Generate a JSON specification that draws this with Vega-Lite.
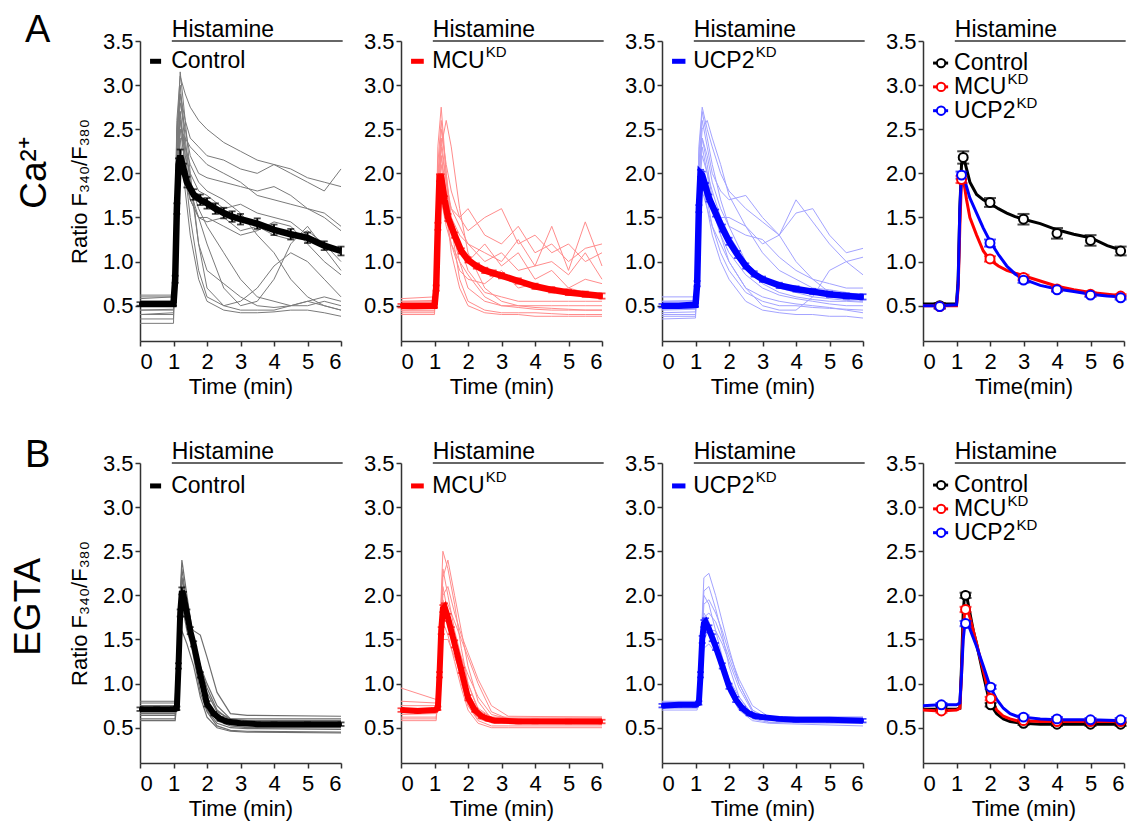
{"$schema":"https://vega.github.io/schema/vega-lite/v6.json","padding":{"left":9,"top":11,"right":5,"bottom":5},"background":"white","bounds":"flush","columns":4,"spacing":{"row":122,"column":60},
"config":{"font":"Liberation Sans","view":{"stroke":null},"axis":{"grid":false,"domainColor":"#333","domainWidth":1.5,"tickColor":"#333","tickWidth":1.5,"tickSize":5,"labelFontSize":22,"labelColor":"#000","titleFontSize":22,"titleFontWeight":"normal","titleColor":"#000","labelFont":"Liberation Sans","titleFont":"Liberation Sans"},"axisX":{"labelPadding":5,"titlePadding":4},"axisY":{"labelPadding":2,"titlePadding":11},"text":{"color":"#000"}},
"datasets":{
"tr":[
{"k":"a1","t":0,"v":0.55},{"k":"a1","t":1,"v":0.55},{"k":"a1","t":1.1,"v":2.6},{"k":"a1","t":1.2,"v":3.1},{"k":"a1","t":1.35,"v":2.9},{"k":"a1","t":1.5,"v":2.75},{"k":"a1","t":1.75,"v":2.6},{"k":"a1","t":2,"v":2.5},{"k":"a1","t":2.5,"v":2.35},{"k":"a1","t":3,"v":2.25},{"k":"a1","t":3.5,"v":2.15},{"k":"a1","t":4,"v":2.1},{"k":"a1","t":4.5,"v":2.05},{"k":"a1","t":5,"v":1.95},{"k":"a1","t":5.5,"v":1.9},{"k":"a1","t":6,"v":1.85},
{"k":"a2","t":0,"v":0.5},{"k":"a2","t":1,"v":0.5},{"k":"a2","t":1.1,"v":2.4},{"k":"a2","t":1.2,"v":2.9},{"k":"a2","t":1.35,"v":2.6},{"k":"a2","t":1.5,"v":2.4},{"k":"a2","t":1.75,"v":2.3},{"k":"a2","t":2,"v":2.2},{"k":"a2","t":2.5,"v":2.15},{"k":"a2","t":3,"v":2.05},{"k":"a2","t":3.5,"v":2.0},{"k":"a2","t":4,"v":2.1},{"k":"a2","t":4.5,"v":2.0},{"k":"a2","t":5,"v":1.9},{"k":"a2","t":5.5,"v":1.8},{"k":"a2","t":6,"v":2.05},
{"k":"a3","t":0,"v":0.6},{"k":"a3","t":1,"v":0.6},{"k":"a3","t":1.1,"v":2.2},{"k":"a3","t":1.2,"v":2.8},{"k":"a3","t":1.35,"v":2.5},{"k":"a3","t":1.5,"v":2.2},{"k":"a3","t":1.75,"v":2.0},{"k":"a3","t":2,"v":1.95},{"k":"a3","t":2.5,"v":1.9},{"k":"a3","t":3,"v":1.85},{"k":"a3","t":3.5,"v":1.8},{"k":"a3","t":4,"v":1.85},{"k":"a3","t":4.5,"v":1.75},{"k":"a3","t":5,"v":1.6},{"k":"a3","t":5.5,"v":1.55},{"k":"a3","t":6,"v":1.4},
{"k":"a4","t":0,"v":0.45},{"k":"a4","t":1,"v":0.45},{"k":"a4","t":1.1,"v":2.0},{"k":"a4","t":1.2,"v":2.6},{"k":"a4","t":1.35,"v":2.2},{"k":"a4","t":1.5,"v":2.0},{"k":"a4","t":1.75,"v":1.8},{"k":"a4","t":2,"v":1.75},{"k":"a4","t":2.5,"v":1.6},{"k":"a4","t":3,"v":1.65},{"k":"a4","t":3.5,"v":1.55},{"k":"a4","t":4,"v":1.5},{"k":"a4","t":4.5,"v":1.45},{"k":"a4","t":5,"v":1.3},{"k":"a4","t":5.5,"v":1.2},{"k":"a4","t":6,"v":1.1},
{"k":"a5","t":0,"v":0.4},{"k":"a5","t":1,"v":0.42},{"k":"a5","t":1.1,"v":1.8},{"k":"a5","t":1.2,"v":2.5},{"k":"a5","t":1.35,"v":2.1},{"k":"a5","t":1.5,"v":1.7},{"k":"a5","t":1.75,"v":1.5},{"k":"a5","t":2,"v":1.45},{"k":"a5","t":2.5,"v":1.5},{"k":"a5","t":3,"v":1.35},{"k":"a5","t":3.5,"v":1.4},{"k":"a5","t":4,"v":1.3},{"k":"a5","t":4.5,"v":1.25},{"k":"a5","t":5,"v":1.35},{"k":"a5","t":5.5,"v":1.2},{"k":"a5","t":6,"v":1.0},
{"k":"a6","t":0,"v":0.35},{"k":"a6","t":1,"v":0.35},{"k":"a6","t":1.1,"v":2.3},{"k":"a6","t":1.2,"v":3.0},{"k":"a6","t":1.35,"v":2.4},{"k":"a6","t":1.5,"v":1.9},{"k":"a6","t":1.75,"v":1.2},{"k":"a6","t":2,"v":0.7},{"k":"a6","t":2.5,"v":0.5},{"k":"a6","t":3,"v":0.45},{"k":"a6","t":3.5,"v":0.45},{"k":"a6","t":4,"v":0.45},{"k":"a6","t":4.5,"v":0.5},{"k":"a6","t":5,"v":0.55},{"k":"a6","t":5.5,"v":0.5},{"k":"a6","t":6,"v":0.45},
{"k":"a7","t":0,"v":0.5},{"k":"a7","t":1,"v":0.5},{"k":"a7","t":1.1,"v":2.1},{"k":"a7","t":1.2,"v":2.7},{"k":"a7","t":1.35,"v":2.0},{"k":"a7","t":1.5,"v":1.5},{"k":"a7","t":1.75,"v":0.9},{"k":"a7","t":2,"v":0.6},{"k":"a7","t":2.5,"v":0.5},{"k":"a7","t":3,"v":0.55},{"k":"a7","t":3.5,"v":0.7},{"k":"a7","t":4,"v":0.95},{"k":"a7","t":4.5,"v":1.1},{"k":"a7","t":5,"v":1.0},{"k":"a7","t":5.5,"v":0.8},{"k":"a7","t":6,"v":0.6},
{"k":"a8","t":0,"v":0.3},{"k":"a8","t":1,"v":0.3},{"k":"a8","t":1.1,"v":1.9},{"k":"a8","t":1.2,"v":2.4},{"k":"a8","t":1.35,"v":1.8},{"k":"a8","t":1.5,"v":1.3},{"k":"a8","t":1.75,"v":0.8},{"k":"a8","t":2,"v":0.55},{"k":"a8","t":2.5,"v":0.45},{"k":"a8","t":3,"v":0.42},{"k":"a8","t":3.5,"v":0.42},{"k":"a8","t":4,"v":0.43},{"k":"a8","t":4.5,"v":0.45},{"k":"a8","t":5,"v":0.45},{"k":"a8","t":5.5,"v":0.42},{"k":"a8","t":6,"v":0.38},
{"k":"a9","t":0,"v":0.62},{"k":"a9","t":1,"v":0.62},{"k":"a9","t":1.1,"v":2.5},{"k":"a9","t":1.2,"v":2.9},{"k":"a9","t":1.35,"v":2.3},{"k":"a9","t":1.5,"v":1.9},{"k":"a9","t":1.75,"v":1.6},{"k":"a9","t":2,"v":1.4},{"k":"a9","t":2.5,"v":1.1},{"k":"a9","t":3,"v":0.8},{"k":"a9","t":3.5,"v":0.6},{"k":"a9","t":4,"v":0.55},{"k":"a9","t":4.5,"v":0.5},{"k":"a9","t":5,"v":0.55},{"k":"a9","t":5.5,"v":0.6},{"k":"a9","t":6,"v":0.55},
{"k":"a10","t":0,"v":0.45},{"k":"a10","t":1,"v":0.46},{"k":"a10","t":1.1,"v":1.7},{"k":"a10","t":1.2,"v":2.2},{"k":"a10","t":1.35,"v":1.9},{"k":"a10","t":1.5,"v":1.7},{"k":"a10","t":1.75,"v":1.5},{"k":"a10","t":2,"v":1.2},{"k":"a10","t":2.5,"v":0.7},{"k":"a10","t":3,"v":0.5},{"k":"a10","t":3.5,"v":0.55},{"k":"a10","t":4,"v":0.8},{"k":"a10","t":4.5,"v":1.2},{"k":"a10","t":5,"v":1.4},{"k":"a10","t":5.5,"v":1.15},{"k":"a10","t":6,"v":0.9},
{"k":"a11","t":0,"v":0.55},{"k":"a11","t":1,"v":0.55},{"k":"a11","t":1.1,"v":2.0},{"k":"a11","t":1.2,"v":2.6},{"k":"a11","t":1.35,"v":2.3},{"k":"a11","t":1.5,"v":2.1},{"k":"a11","t":1.75,"v":1.9},{"k":"a11","t":2,"v":1.8},{"k":"a11","t":2.5,"v":1.7},{"k":"a11","t":3,"v":1.55},{"k":"a11","t":3.5,"v":1.3},{"k":"a11","t":4,"v":1.1},{"k":"a11","t":4.5,"v":0.8},{"k":"a11","t":5,"v":0.6},{"k":"a11","t":5.5,"v":0.5},{"k":"a11","t":6,"v":0.45},
{"k":"a12","t":0,"v":0.5},{"k":"a12","t":1,"v":0.52},{"k":"a12","t":1.1,"v":2.2},{"k":"a12","t":1.2,"v":2.7},{"k":"a12","t":1.35,"v":2.2},{"k":"a12","t":1.5,"v":1.8},{"k":"a12","t":1.75,"v":1.5},{"k":"a12","t":2,"v":1.5},{"k":"a12","t":2.5,"v":1.4},{"k":"a12","t":3,"v":1.3},{"k":"a12","t":3.5,"v":1.35},{"k":"a12","t":4,"v":1.45},{"k":"a12","t":4.5,"v":1.4},{"k":"a12","t":5,"v":1.2},{"k":"a12","t":5.5,"v":1.0},{"k":"a12","t":6,"v":0.85},
{"k":"a13","t":0,"v":0.4},{"k":"a13","t":1,"v":0.4},{"k":"a13","t":1.1,"v":2.4},{"k":"a13","t":1.2,"v":3.15},{"k":"a13","t":1.35,"v":2.6},{"k":"a13","t":1.5,"v":2.0},{"k":"a13","t":1.75,"v":1.2},{"k":"a13","t":2,"v":0.9},{"k":"a13","t":2.5,"v":0.75},{"k":"a13","t":3,"v":0.6},{"k":"a13","t":3.5,"v":0.5},{"k":"a13","t":4,"v":0.48},{"k":"a13","t":4.5,"v":0.5},{"k":"a13","t":5,"v":0.5},{"k":"a13","t":5.5,"v":0.55},{"k":"a13","t":6,"v":0.5},
{"k":"a14","t":0,"v":0.58},{"k":"a14","t":1,"v":0.6},{"k":"a14","t":1.1,"v":2.0},{"k":"a14","t":1.2,"v":2.5},{"k":"a14","t":1.35,"v":2.4},{"k":"a14","t":1.5,"v":2.3},{"k":"a14","t":1.75,"v":2.2},{"k":"a14","t":2,"v":2.1},{"k":"a14","t":2.5,"v":2.0},{"k":"a14","t":3,"v":1.9},{"k":"a14","t":3.5,"v":1.75},{"k":"a14","t":4,"v":1.7},{"k":"a14","t":4.5,"v":1.65},{"k":"a14","t":5,"v":1.6},{"k":"a14","t":5.5,"v":1.5},{"k":"a14","t":6,"v":1.35},
{"k":"b1","t":0,"v":0.5},{"k":"b1","t":1,"v":0.5},{"k":"b1","t":1.1,"v":2.3},{"k":"b1","t":1.2,"v":2.75},{"k":"b1","t":1.35,"v":2.0},{"k":"b1","t":1.5,"v":1.4},{"k":"b1","t":1.75,"v":0.8},{"k":"b1","t":2,"v":0.55},{"k":"b1","t":2.5,"v":0.45},{"k":"b1","t":3,"v":0.42},{"k":"b1","t":3.5,"v":0.42},{"k":"b1","t":4,"v":0.42},{"k":"b1","t":4.5,"v":0.41},{"k":"b1","t":5,"v":0.4},{"k":"b1","t":5.5,"v":0.4},{"k":"b1","t":6,"v":0.4},
{"k":"b2","t":0,"v":0.45},{"k":"b2","t":1,"v":0.47},{"k":"b2","t":1.1,"v":1.6},{"k":"b2","t":1.2,"v":2.3},{"k":"b2","t":1.35,"v":2.6},{"k":"b2","t":1.5,"v":2.3},{"k":"b2","t":1.75,"v":1.6},{"k":"b2","t":2,"v":1.1},{"k":"b2","t":2.5,"v":0.7},{"k":"b2","t":3,"v":0.55},{"k":"b2","t":3.5,"v":0.5},{"k":"b2","t":4,"v":0.48},{"k":"b2","t":4.5,"v":0.47},{"k":"b2","t":5,"v":0.46},{"k":"b2","t":5.5,"v":0.45},{"k":"b2","t":6,"v":0.45},
{"k":"b3","t":0,"v":0.55},{"k":"b3","t":1,"v":0.55},{"k":"b3","t":1.1,"v":1.8},{"k":"b3","t":1.2,"v":2.2},{"k":"b3","t":1.35,"v":1.8},{"k":"b3","t":1.5,"v":1.6},{"k":"b3","t":1.75,"v":1.5},{"k":"b3","t":2,"v":1.35},{"k":"b3","t":2.5,"v":1.5},{"k":"b3","t":3,"v":1.6},{"k":"b3","t":3.5,"v":1.2},{"k":"b3","t":4,"v":1.3},{"k":"b3","t":4.5,"v":1.1},{"k":"b3","t":5,"v":1.2},{"k":"b3","t":5.5,"v":1.0},{"k":"b3","t":6,"v":1.1},
{"k":"b4","t":0,"v":0.42},{"k":"b4","t":1,"v":0.42},{"k":"b4","t":1.1,"v":1.5},{"k":"b4","t":1.2,"v":2.0},{"k":"b4","t":1.35,"v":1.7},{"k":"b4","t":1.5,"v":1.5},{"k":"b4","t":1.75,"v":1.3},{"k":"b4","t":2,"v":1.2},{"k":"b4","t":2.5,"v":1.0},{"k":"b4","t":3,"v":1.1},{"k":"b4","t":3.5,"v":0.9},{"k":"b4","t":4,"v":0.95},{"k":"b4","t":4.5,"v":1.4},{"k":"b4","t":5,"v":0.9},{"k":"b4","t":5.5,"v":1.45},{"k":"b4","t":6,"v":0.95},
{"k":"b5","t":0,"v":0.5},{"k":"b5","t":1,"v":0.5},{"k":"b5","t":1.1,"v":2.0},{"k":"b5","t":1.2,"v":2.4},{"k":"b5","t":1.35,"v":1.9},{"k":"b5","t":1.5,"v":1.4},{"k":"b5","t":1.75,"v":1.0},{"k":"b5","t":2,"v":0.7},{"k":"b5","t":2.5,"v":0.55},{"k":"b5","t":3,"v":0.5},{"k":"b5","t":3.5,"v":0.5},{"k":"b5","t":4,"v":0.5},{"k":"b5","t":4.5,"v":0.5},{"k":"b5","t":5,"v":0.5},{"k":"b5","t":5.5,"v":0.5},{"k":"b5","t":6,"v":0.5},
{"k":"b6","t":0,"v":0.4},{"k":"b6","t":1,"v":0.4},{"k":"b6","t":1.1,"v":1.7},{"k":"b6","t":1.2,"v":2.1},{"k":"b6","t":1.35,"v":1.6},{"k":"b6","t":1.5,"v":1.1},{"k":"b6","t":1.75,"v":0.7},{"k":"b6","t":2,"v":0.5},{"k":"b6","t":2.5,"v":0.42},{"k":"b6","t":3,"v":0.4},{"k":"b6","t":3.5,"v":0.4},{"k":"b6","t":4,"v":0.38},{"k":"b6","t":4.5,"v":0.38},{"k":"b6","t":5,"v":0.38},{"k":"b6","t":5.5,"v":0.38},{"k":"b6","t":6,"v":0.38},
{"k":"b7","t":0,"v":0.58},{"k":"b7","t":1,"v":0.6},{"k":"b7","t":1.1,"v":1.9},{"k":"b7","t":1.2,"v":2.5},{"k":"b7","t":1.35,"v":2.1},{"k":"b7","t":1.5,"v":1.8},{"k":"b7","t":1.75,"v":1.5},{"k":"b7","t":2,"v":1.6},{"k":"b7","t":2.5,"v":1.3},{"k":"b7","t":3,"v":1.2},{"k":"b7","t":3.5,"v":1.4},{"k":"b7","t":4,"v":1.1},{"k":"b7","t":4.5,"v":1.2},{"k":"b7","t":5,"v":1.0},{"k":"b7","t":5.5,"v":1.15},{"k":"b7","t":6,"v":1.2},
{"k":"b8","t":0,"v":0.48},{"k":"b8","t":1,"v":0.48},{"k":"b8","t":1.1,"v":1.6},{"k":"b8","t":1.2,"v":1.9},{"k":"b8","t":1.35,"v":1.5},{"k":"b8","t":1.5,"v":1.2},{"k":"b8","t":1.75,"v":0.9},{"k":"b8","t":2,"v":0.8},{"k":"b8","t":2.5,"v":0.75},{"k":"b8","t":3,"v":0.9},{"k":"b8","t":3.5,"v":0.7},{"k":"b8","t":4,"v":0.75},{"k":"b8","t":4.5,"v":0.65},{"k":"b8","t":5,"v":0.7},{"k":"b8","t":5.5,"v":0.65},{"k":"b8","t":6,"v":0.6},
{"k":"b9","t":0,"v":0.45},{"k":"b9","t":1,"v":0.45},{"k":"b9","t":1.1,"v":1.8},{"k":"b9","t":1.2,"v":2.2},{"k":"b9","t":1.35,"v":1.7},{"k":"b9","t":1.5,"v":1.3},{"k":"b9","t":1.75,"v":1.1},{"k":"b9","t":2,"v":1.0},{"k":"b9","t":2.5,"v":1.2},{"k":"b9","t":3,"v":0.95},{"k":"b9","t":3.5,"v":1.1},{"k":"b9","t":4,"v":0.8},{"k":"b9","t":4.5,"v":0.9},{"k":"b9","t":5,"v":0.7},{"k":"b9","t":5.5,"v":0.8},{"k":"b9","t":6,"v":0.75},
{"k":"b10","t":0,"v":0.52},{"k":"b10","t":1,"v":0.52},{"k":"b10","t":1.1,"v":2.1},{"k":"b10","t":1.2,"v":2.6},{"k":"b10","t":1.35,"v":2.0},{"k":"b10","t":1.5,"v":1.5},{"k":"b10","t":1.75,"v":1.2},{"k":"b10","t":2,"v":0.9},{"k":"b10","t":2.5,"v":0.65},{"k":"b10","t":3,"v":0.6},{"k":"b10","t":3.5,"v":0.55},{"k":"b10","t":4,"v":0.55},{"k":"b10","t":4.5,"v":0.55},{"k":"b10","t":5,"v":0.55},{"k":"b10","t":5.5,"v":0.55},{"k":"b10","t":6,"v":0.55},
{"k":"b11","t":0,"v":0.44},{"k":"b11","t":1,"v":0.44},{"k":"b11","t":1.1,"v":1.4},{"k":"b11","t":1.2,"v":1.7},{"k":"b11","t":1.35,"v":1.4},{"k":"b11","t":1.5,"v":1.2},{"k":"b11","t":1.75,"v":1.0},{"k":"b11","t":2,"v":0.85},{"k":"b11","t":2.5,"v":0.6},{"k":"b11","t":3,"v":0.5},{"k":"b11","t":3.5,"v":0.48},{"k":"b11","t":4,"v":0.46},{"k":"b11","t":4.5,"v":0.45},{"k":"b11","t":5,"v":0.45},{"k":"b11","t":5.5,"v":0.45},{"k":"b11","t":6,"v":0.45},
{"k":"b12","t":0,"v":0.55},{"k":"b12","t":1,"v":0.56},{"k":"b12","t":1.1,"v":1.9},{"k":"b12","t":1.2,"v":2.3},{"k":"b12","t":1.35,"v":1.9},{"k":"b12","t":1.5,"v":1.6},{"k":"b12","t":1.75,"v":1.4},{"k":"b12","t":2,"v":1.2},{"k":"b12","t":2.5,"v":1.1},{"k":"b12","t":3,"v":1.0},{"k":"b12","t":3.5,"v":1.25},{"k":"b12","t":4,"v":0.95},{"k":"b12","t":4.5,"v":1.0},{"k":"b12","t":5,"v":0.85},{"k":"b12","t":5.5,"v":1.1},{"k":"b12","t":6,"v":0.8},
{"k":"c1","t":0,"v":0.5},{"k":"c1","t":1,"v":0.5},{"k":"c1","t":1.1,"v":2.3},{"k":"c1","t":1.2,"v":2.75},{"k":"c1","t":1.35,"v":2.5},{"k":"c1","t":1.5,"v":2.3},{"k":"c1","t":1.75,"v":2.0},{"k":"c1","t":2,"v":1.8},{"k":"c1","t":2.5,"v":1.6},{"k":"c1","t":3,"v":1.45},{"k":"c1","t":3.5,"v":1.3},{"k":"c1","t":4,"v":1.55},{"k":"c1","t":4.5,"v":1.6},{"k":"c1","t":5,"v":1.3},{"k":"c1","t":5.5,"v":1.1},{"k":"c1","t":6,"v":1.15},
{"k":"c2","t":0,"v":0.45},{"k":"c2","t":1,"v":0.46},{"k":"c2","t":1.1,"v":2.0},{"k":"c2","t":1.2,"v":2.5},{"k":"c2","t":1.35,"v":2.6},{"k":"c2","t":1.5,"v":2.4},{"k":"c2","t":1.75,"v":2.1},{"k":"c2","t":2,"v":1.75},{"k":"c2","t":2.5,"v":1.4},{"k":"c2","t":3,"v":1.1},{"k":"c2","t":3.5,"v":0.9},{"k":"c2","t":4,"v":0.8},{"k":"c2","t":4.5,"v":0.7},{"k":"c2","t":5,"v":0.68},{"k":"c2","t":5.5,"v":0.65},{"k":"c2","t":6,"v":0.62},
{"k":"c3","t":0,"v":0.55},{"k":"c3","t":1,"v":0.55},{"k":"c3","t":1.1,"v":1.8},{"k":"c3","t":1.2,"v":2.2},{"k":"c3","t":1.35,"v":2.0},{"k":"c3","t":1.5,"v":1.8},{"k":"c3","t":1.75,"v":1.5},{"k":"c3","t":2,"v":1.3},{"k":"c3","t":2.5,"v":1.0},{"k":"c3","t":3,"v":0.8},{"k":"c3","t":3.5,"v":0.7},{"k":"c3","t":4,"v":0.65},{"k":"c3","t":4.5,"v":0.6},{"k":"c3","t":5,"v":0.58},{"k":"c3","t":5.5,"v":0.56},{"k":"c3","t":6,"v":0.55},
{"k":"c4","t":0,"v":0.38},{"k":"c4","t":1,"v":0.38},{"k":"c4","t":1.1,"v":1.6},{"k":"c4","t":1.2,"v":1.9},{"k":"c4","t":1.35,"v":1.6},{"k":"c4","t":1.5,"v":1.3},{"k":"c4","t":1.75,"v":1.0},{"k":"c4","t":2,"v":0.8},{"k":"c4","t":2.5,"v":0.55},{"k":"c4","t":3,"v":0.45},{"k":"c4","t":3.5,"v":0.42},{"k":"c4","t":4,"v":0.4},{"k":"c4","t":4.5,"v":0.4},{"k":"c4","t":5,"v":0.38},{"k":"c4","t":5.5,"v":0.38},{"k":"c4","t":6,"v":0.36},
{"k":"c5","t":0,"v":0.6},{"k":"c5","t":1,"v":0.6},{"k":"c5","t":1.1,"v":2.1},{"k":"c5","t":1.2,"v":2.6},{"k":"c5","t":1.35,"v":2.3},{"k":"c5","t":1.5,"v":2.0},{"k":"c5","t":1.75,"v":1.8},{"k":"c5","t":2,"v":1.7},{"k":"c5","t":2.5,"v":1.75},{"k":"c5","t":3,"v":1.5},{"k":"c5","t":3.5,"v":1.3},{"k":"c5","t":4,"v":1.7},{"k":"c5","t":4.5,"v":1.45},{"k":"c5","t":5,"v":1.2},{"k":"c5","t":5.5,"v":1.0},{"k":"c5","t":6,"v":0.85},
{"k":"c6","t":0,"v":0.42},{"k":"c6","t":1,"v":0.43},{"k":"c6","t":1.1,"v":1.7},{"k":"c6","t":1.2,"v":2.0},{"k":"c6","t":1.35,"v":1.7},{"k":"c6","t":1.5,"v":1.4},{"k":"c6","t":1.75,"v":1.1},{"k":"c6","t":2,"v":0.9},{"k":"c6","t":2.5,"v":0.65},{"k":"c6","t":3,"v":0.55},{"k":"c6","t":3.5,"v":0.5},{"k":"c6","t":4,"v":0.5},{"k":"c6","t":4.5,"v":0.48},{"k":"c6","t":5,"v":0.47},{"k":"c6","t":5.5,"v":0.46},{"k":"c6","t":6,"v":0.45},
{"k":"c7","t":0,"v":0.5},{"k":"c7","t":1,"v":0.5},{"k":"c7","t":1.1,"v":1.9},{"k":"c7","t":1.2,"v":2.4},{"k":"c7","t":1.35,"v":2.2},{"k":"c7","t":1.5,"v":1.9},{"k":"c7","t":1.75,"v":1.6},{"k":"c7","t":2,"v":1.4},{"k":"c7","t":2.5,"v":1.3},{"k":"c7","t":3,"v":1.25},{"k":"c7","t":3.5,"v":1.05},{"k":"c7","t":4,"v":0.9},{"k":"c7","t":4.5,"v":0.8},{"k":"c7","t":5,"v":0.75},{"k":"c7","t":5.5,"v":0.7},{"k":"c7","t":6,"v":0.7},
{"k":"c8","t":0,"v":0.35},{"k":"c8","t":1,"v":0.36},{"k":"c8","t":1.1,"v":1.5},{"k":"c8","t":1.2,"v":1.8},{"k":"c8","t":1.35,"v":1.6},{"k":"c8","t":1.5,"v":1.4},{"k":"c8","t":1.75,"v":1.2},{"k":"c8","t":2,"v":1.0},{"k":"c8","t":2.5,"v":0.7},{"k":"c8","t":3,"v":0.5},{"k":"c8","t":3.5,"v":0.45},{"k":"c8","t":4,"v":0.45},{"k":"c8","t":4.5,"v":0.6},{"k":"c8","t":5,"v":0.9},{"k":"c8","t":5.5,"v":1.0},{"k":"c8","t":6,"v":1.05},
{"k":"c9","t":0,"v":0.55},{"k":"c9","t":1,"v":0.56},{"k":"c9","t":1.1,"v":2.2},{"k":"c9","t":1.2,"v":2.7},{"k":"c9","t":1.35,"v":2.4},{"k":"c9","t":1.5,"v":2.1},{"k":"c9","t":1.75,"v":1.7},{"k":"c9","t":2,"v":1.4},{"k":"c9","t":2.5,"v":1.0},{"k":"c9","t":3,"v":0.75},{"k":"c9","t":3.5,"v":0.65},{"k":"c9","t":4,"v":0.6},{"k":"c9","t":4.5,"v":0.57},{"k":"c9","t":5,"v":0.55},{"k":"c9","t":5.5,"v":0.55},{"k":"c9","t":6,"v":0.54},
{"k":"c10","t":0,"v":0.46},{"k":"c10","t":1,"v":0.47},{"k":"c10","t":1.1,"v":1.8},{"k":"c10","t":1.2,"v":2.3},{"k":"c10","t":1.35,"v":2.0},{"k":"c10","t":1.5,"v":1.6},{"k":"c10","t":1.75,"v":1.3},{"k":"c10","t":2,"v":1.1},{"k":"c10","t":2.5,"v":0.85},{"k":"c10","t":3,"v":0.7},{"k":"c10","t":3.5,"v":0.62},{"k":"c10","t":4,"v":0.58},{"k":"c10","t":4.5,"v":0.55},{"k":"c10","t":5,"v":0.52},{"k":"c10","t":5.5,"v":0.5},{"k":"c10","t":6,"v":0.5},
{"k":"c11","t":0,"v":0.4},{"k":"c11","t":1,"v":0.4},{"k":"c11","t":1.1,"v":1.6},{"k":"c11","t":1.2,"v":2.0},{"k":"c11","t":1.35,"v":1.9},{"k":"c11","t":1.5,"v":1.7},{"k":"c11","t":1.75,"v":1.5},{"k":"c11","t":2,"v":1.5},{"k":"c11","t":2.5,"v":1.4},{"k":"c11","t":3,"v":1.2},{"k":"c11","t":3.5,"v":1.3},{"k":"c11","t":4,"v":1.0},{"k":"c11","t":4.5,"v":0.8},{"k":"c11","t":5,"v":0.65},{"k":"c11","t":5.5,"v":0.6},{"k":"c11","t":6,"v":0.58},
{"k":"c12","t":0,"v":0.52},{"k":"c12","t":1,"v":0.53},{"k":"c12","t":1.1,"v":2.0},{"k":"c12","t":1.2,"v":2.4},{"k":"c12","t":1.35,"v":2.1},{"k":"c12","t":1.5,"v":1.7},{"k":"c12","t":1.75,"v":1.3},{"k":"c12","t":2,"v":1.0},{"k":"c12","t":2.5,"v":0.7},{"k":"c12","t":3,"v":0.6},{"k":"c12","t":3.5,"v":0.55},{"k":"c12","t":4,"v":0.52},{"k":"c12","t":4.5,"v":0.5},{"k":"c12","t":5,"v":0.48},{"k":"c12","t":5.5,"v":0.45},{"k":"c12","t":6,"v":0.42},
{"k":"d1","t":0,"v":0.8},{"k":"d1","t":1.05,"v":0.8},{"k":"d1","t":1.15,"v":1.6},{"k":"d1","t":1.25,"v":2.4},{"k":"d1","t":1.4,"v":2.0},{"k":"d1","t":1.6,"v":1.5},{"k":"d1","t":1.8,"v":1.1},{"k":"d1","t":2,"v":0.8},{"k":"d1","t":2.3,"v":0.6},{"k":"d1","t":2.7,"v":0.55},{"k":"d1","t":3.2,"v":0.55},{"k":"d1","t":6,"v":0.55},
{"k":"d2","t":0,"v":0.72},{"k":"d2","t":1.05,"v":0.72},{"k":"d2","t":1.15,"v":1.4},{"k":"d2","t":1.25,"v":2.2},{"k":"d2","t":1.4,"v":1.9},{"k":"d2","t":1.6,"v":1.4},{"k":"d2","t":1.8,"v":1.0},{"k":"d2","t":2,"v":0.75},{"k":"d2","t":2.3,"v":0.58},{"k":"d2","t":2.7,"v":0.52},{"k":"d2","t":3.2,"v":0.5},{"k":"d2","t":6,"v":0.5},
{"k":"d3","t":0,"v":0.6},{"k":"d3","t":1.05,"v":0.6},{"k":"d3","t":1.15,"v":1.2},{"k":"d3","t":1.25,"v":1.9},{"k":"d3","t":1.4,"v":1.7},{"k":"d3","t":1.6,"v":1.3},{"k":"d3","t":1.8,"v":0.9},{"k":"d3","t":2,"v":0.68},{"k":"d3","t":2.3,"v":0.52},{"k":"d3","t":2.7,"v":0.47},{"k":"d3","t":3.2,"v":0.46},{"k":"d3","t":6,"v":0.45},
{"k":"d4","t":0,"v":0.66},{"k":"d4","t":1.05,"v":0.66},{"k":"d4","t":1.15,"v":1.5},{"k":"d4","t":1.25,"v":2.1},{"k":"d4","t":1.4,"v":1.8},{"k":"d4","t":1.6,"v":1.45},{"k":"d4","t":1.8,"v":1.15},{"k":"d4","t":2,"v":0.9},{"k":"d4","t":2.3,"v":0.68},{"k":"d4","t":2.7,"v":0.6},{"k":"d4","t":3.2,"v":0.58},{"k":"d4","t":6,"v":0.58},
{"k":"d5","t":0,"v":0.78},{"k":"d5","t":1.05,"v":0.78},{"k":"d5","t":1.15,"v":1.3},{"k":"d5","t":1.25,"v":1.8},{"k":"d5","t":1.4,"v":1.7},{"k":"d5","t":1.6,"v":1.6},{"k":"d5","t":1.8,"v":1.55},{"k":"d5","t":2,"v":1.3},{"k":"d5","t":2.3,"v":0.9},{"k":"d5","t":2.7,"v":0.66},{"k":"d5","t":3.2,"v":0.64},{"k":"d5","t":6,"v":0.63},
{"k":"d6","t":0,"v":0.58},{"k":"d6","t":1.05,"v":0.58},{"k":"d6","t":1.15,"v":1.0},{"k":"d6","t":1.25,"v":1.6},{"k":"d6","t":1.4,"v":1.45},{"k":"d6","t":1.6,"v":1.2},{"k":"d6","t":1.8,"v":0.85},{"k":"d6","t":2,"v":0.62},{"k":"d6","t":2.3,"v":0.5},{"k":"d6","t":2.7,"v":0.46},{"k":"d6","t":3.2,"v":0.45},{"k":"d6","t":6,"v":0.44},
{"k":"d7","t":0,"v":0.7},{"k":"d7","t":1.05,"v":0.7},{"k":"d7","t":1.15,"v":1.7},{"k":"d7","t":1.25,"v":2.3},{"k":"d7","t":1.4,"v":1.9},{"k":"d7","t":1.6,"v":1.5},{"k":"d7","t":1.8,"v":1.2},{"k":"d7","t":2,"v":0.95},{"k":"d7","t":2.3,"v":0.7},{"k":"d7","t":2.7,"v":0.58},{"k":"d7","t":3.2,"v":0.56},{"k":"d7","t":6,"v":0.55},
{"k":"d8","t":0,"v":0.75},{"k":"d8","t":1.05,"v":0.75},{"k":"d8","t":1.15,"v":1.4},{"k":"d8","t":1.25,"v":2.0},{"k":"d8","t":1.4,"v":1.75},{"k":"d8","t":1.6,"v":1.4},{"k":"d8","t":1.8,"v":1.05},{"k":"d8","t":2,"v":0.8},{"k":"d8","t":2.3,"v":0.62},{"k":"d8","t":2.7,"v":0.56},{"k":"d8","t":3.2,"v":0.55},{"k":"d8","t":6,"v":0.54},
{"k":"d9","t":0,"v":0.64},{"k":"d9","t":1.05,"v":0.64},{"k":"d9","t":1.15,"v":1.3},{"k":"d9","t":1.25,"v":1.9},{"k":"d9","t":1.4,"v":1.6},{"k":"d9","t":1.6,"v":1.35},{"k":"d9","t":1.8,"v":1.2},{"k":"d9","t":2,"v":1.0},{"k":"d9","t":2.3,"v":0.75},{"k":"d9","t":2.7,"v":0.6},{"k":"d9","t":3.2,"v":0.6},{"k":"d9","t":6,"v":0.6},
{"k":"d10","t":0,"v":0.68},{"k":"d10","t":1.05,"v":0.68},{"k":"d10","t":1.15,"v":1.6},{"k":"d10","t":1.25,"v":2.2},{"k":"d10","t":1.4,"v":1.85},{"k":"d10","t":1.6,"v":1.45},{"k":"d10","t":1.8,"v":1.0},{"k":"d10","t":2,"v":0.7},{"k":"d10","t":2.3,"v":0.55},{"k":"d10","t":2.7,"v":0.5},{"k":"d10","t":3.2,"v":0.49},{"k":"d10","t":6,"v":0.48},
{"k":"e1","t":0,"v":0.95},{"k":"e1","t":1.05,"v":0.82},{"k":"e1","t":1.15,"v":1.5},{"k":"e1","t":1.25,"v":2.5},{"k":"e1","t":1.4,"v":2.3},{"k":"e1","t":1.6,"v":1.9},{"k":"e1","t":1.8,"v":1.4},{"k":"e1","t":2,"v":1.0},{"k":"e1","t":2.3,"v":0.7},{"k":"e1","t":2.7,"v":0.62},{"k":"e1","t":3.2,"v":0.62},{"k":"e1","t":6,"v":0.62},
{"k":"e2","t":0,"v":0.7},{"k":"e2","t":1.05,"v":0.7},{"k":"e2","t":1.15,"v":1.3},{"k":"e2","t":1.25,"v":2.2},{"k":"e2","t":1.4,"v":2.4},{"k":"e2","t":1.6,"v":2.0},{"k":"e2","t":1.8,"v":1.6},{"k":"e2","t":2,"v":1.2},{"k":"e2","t":2.3,"v":0.8},{"k":"e2","t":2.7,"v":0.6},{"k":"e2","t":3.2,"v":0.58},{"k":"e2","t":6,"v":0.58},
{"k":"e3","t":0,"v":0.6},{"k":"e3","t":1.05,"v":0.6},{"k":"e3","t":1.15,"v":1.1},{"k":"e3","t":1.25,"v":1.8},{"k":"e3","t":1.4,"v":1.7},{"k":"e3","t":1.6,"v":1.4},{"k":"e3","t":1.8,"v":1.05},{"k":"e3","t":2,"v":0.75},{"k":"e3","t":2.3,"v":0.58},{"k":"e3","t":2.7,"v":0.52},{"k":"e3","t":3.2,"v":0.52},{"k":"e3","t":6,"v":0.52},
{"k":"e4","t":0,"v":0.65},{"k":"e4","t":1.05,"v":0.66},{"k":"e4","t":1.15,"v":1.2},{"k":"e4","t":1.25,"v":1.9},{"k":"e4","t":1.4,"v":1.9},{"k":"e4","t":1.6,"v":1.7},{"k":"e4","t":1.8,"v":1.5},{"k":"e4","t":2,"v":1.3},{"k":"e4","t":2.3,"v":1.0},{"k":"e4","t":2.7,"v":0.68},{"k":"e4","t":3.2,"v":0.6},{"k":"e4","t":6,"v":0.6},
{"k":"e5","t":0,"v":0.75},{"k":"e5","t":1.05,"v":0.75},{"k":"e5","t":1.15,"v":1.4},{"k":"e5","t":1.25,"v":2.1},{"k":"e5","t":1.4,"v":1.8},{"k":"e5","t":1.6,"v":1.4},{"k":"e5","t":1.8,"v":1.0},{"k":"e5","t":2,"v":0.75},{"k":"e5","t":2.3,"v":0.6},{"k":"e5","t":2.7,"v":0.56},{"k":"e5","t":3.2,"v":0.56},{"k":"e5","t":6,"v":0.55},
{"k":"e6","t":0,"v":0.62},{"k":"e6","t":1.05,"v":0.62},{"k":"e6","t":1.15,"v":1.0},{"k":"e6","t":1.25,"v":1.5},{"k":"e6","t":1.4,"v":1.5},{"k":"e6","t":1.6,"v":1.3},{"k":"e6","t":1.8,"v":1.1},{"k":"e6","t":2,"v":0.9},{"k":"e6","t":2.3,"v":0.7},{"k":"e6","t":2.7,"v":0.58},{"k":"e6","t":3.2,"v":0.55},{"k":"e6","t":6,"v":0.54},
{"k":"e7","t":0,"v":0.8},{"k":"e7","t":1.05,"v":0.78},{"k":"e7","t":1.15,"v":1.5},{"k":"e7","t":1.25,"v":2.3},{"k":"e7","t":1.4,"v":2.0},{"k":"e7","t":1.6,"v":1.6},{"k":"e7","t":1.8,"v":1.3},{"k":"e7","t":2,"v":1.0},{"k":"e7","t":2.3,"v":0.72},{"k":"e7","t":2.7,"v":0.62},{"k":"e7","t":3.2,"v":0.6},{"k":"e7","t":6,"v":0.6},
{"k":"e8","t":0,"v":0.68},{"k":"e8","t":1.05,"v":0.68},{"k":"e8","t":1.15,"v":1.25},{"k":"e8","t":1.25,"v":1.95},{"k":"e8","t":1.4,"v":1.75},{"k":"e8","t":1.6,"v":1.5},{"k":"e8","t":1.8,"v":1.3},{"k":"e8","t":2,"v":1.1},{"k":"e8","t":2.3,"v":0.85},{"k":"e8","t":2.7,"v":0.65},{"k":"e8","t":3.2,"v":0.6},{"k":"e8","t":6,"v":0.58},
{"k":"e9","t":0,"v":0.58},{"k":"e9","t":1.05,"v":0.58},{"k":"e9","t":1.15,"v":1.1},{"k":"e9","t":1.25,"v":1.7},{"k":"e9","t":1.4,"v":1.55},{"k":"e9","t":1.6,"v":1.25},{"k":"e9","t":1.8,"v":0.95},{"k":"e9","t":2,"v":0.7},{"k":"e9","t":2.3,"v":0.55},{"k":"e9","t":2.7,"v":0.5},{"k":"e9","t":3.2,"v":0.5},{"k":"e9","t":6,"v":0.5},
{"k":"e10","t":0,"v":0.72},{"k":"e10","t":1.05,"v":0.72},{"k":"e10","t":1.15,"v":1.35},{"k":"e10","t":1.25,"v":2.0},{"k":"e10","t":1.4,"v":2.1},{"k":"e10","t":1.6,"v":1.8},{"k":"e10","t":1.8,"v":1.55},{"k":"e10","t":2,"v":1.35},{"k":"e10","t":2.3,"v":1.05},{"k":"e10","t":2.7,"v":0.75},{"k":"e10","t":3.2,"v":0.63},{"k":"e10","t":6,"v":0.62},
{"k":"f1","t":0,"v":0.76},{"k":"f1","t":1.05,"v":0.76},{"k":"f1","t":1.15,"v":1.3},{"k":"f1","t":1.25,"v":2.2},{"k":"f1","t":1.4,"v":2.25},{"k":"f1","t":1.6,"v":2.0},{"k":"f1","t":1.8,"v":1.7},{"k":"f1","t":2,"v":1.4},{"k":"f1","t":2.3,"v":1.0},{"k":"f1","t":2.7,"v":0.7},{"k":"f1","t":3.2,"v":0.6},{"k":"f1","t":6,"v":0.6},
{"k":"f2","t":0,"v":0.74},{"k":"f2","t":1.05,"v":0.74},{"k":"f2","t":1.15,"v":1.2},{"k":"f2","t":1.25,"v":1.9},{"k":"f2","t":1.4,"v":1.95},{"k":"f2","t":1.6,"v":1.8},{"k":"f2","t":1.8,"v":1.6},{"k":"f2","t":2,"v":1.35},{"k":"f2","t":2.3,"v":1.05},{"k":"f2","t":2.7,"v":0.75},{"k":"f2","t":3.2,"v":0.62},{"k":"f2","t":6,"v":0.62},
{"k":"f3","t":0,"v":0.78},{"k":"f3","t":1.05,"v":0.78},{"k":"f3","t":1.15,"v":1.1},{"k":"f3","t":1.25,"v":1.6},{"k":"f3","t":1.4,"v":1.6},{"k":"f3","t":1.6,"v":1.45},{"k":"f3","t":1.8,"v":1.2},{"k":"f3","t":2,"v":0.95},{"k":"f3","t":2.3,"v":0.75},{"k":"f3","t":2.7,"v":0.62},{"k":"f3","t":3.2,"v":0.58},{"k":"f3","t":6,"v":0.57},
{"k":"f4","t":0,"v":0.72},{"k":"f4","t":1.05,"v":0.72},{"k":"f4","t":1.15,"v":1.0},{"k":"f4","t":1.25,"v":1.4},{"k":"f4","t":1.4,"v":1.45},{"k":"f4","t":1.6,"v":1.35},{"k":"f4","t":1.8,"v":1.2},{"k":"f4","t":2,"v":1.05},{"k":"f4","t":2.3,"v":0.85},{"k":"f4","t":2.7,"v":0.65},{"k":"f4","t":3.2,"v":0.56},{"k":"f4","t":6,"v":0.55},
{"k":"f5","t":0,"v":0.8},{"k":"f5","t":1.05,"v":0.8},{"k":"f5","t":1.15,"v":1.4},{"k":"f5","t":1.25,"v":2.0},{"k":"f5","t":1.4,"v":1.9},{"k":"f5","t":1.6,"v":1.6},{"k":"f5","t":1.8,"v":1.3},{"k":"f5","t":2,"v":1.05},{"k":"f5","t":2.3,"v":0.8},{"k":"f5","t":2.7,"v":0.65},{"k":"f5","t":3.2,"v":0.62},{"k":"f5","t":6,"v":0.62},
{"k":"f6","t":0,"v":0.7},{"k":"f6","t":1.05,"v":0.7},{"k":"f6","t":1.15,"v":1.15},{"k":"f6","t":1.25,"v":1.75},{"k":"f6","t":1.4,"v":1.8},{"k":"f6","t":1.6,"v":1.7},{"k":"f6","t":1.8,"v":1.5},{"k":"f6","t":2,"v":1.3},{"k":"f6","t":2.3,"v":1.0},{"k":"f6","t":2.7,"v":0.7},{"k":"f6","t":3.2,"v":0.58},{"k":"f6","t":6,"v":0.58},
{"k":"f7","t":0,"v":0.75},{"k":"f7","t":1.05,"v":0.75},{"k":"f7","t":1.15,"v":1.25},{"k":"f7","t":1.25,"v":1.8},{"k":"f7","t":1.4,"v":1.7},{"k":"f7","t":1.6,"v":1.5},{"k":"f7","t":1.8,"v":1.25},{"k":"f7","t":2,"v":1.0},{"k":"f7","t":2.3,"v":0.75},{"k":"f7","t":2.7,"v":0.6},{"k":"f7","t":3.2,"v":0.56},{"k":"f7","t":6,"v":0.55},
{"k":"f8","t":0,"v":0.77},{"k":"f8","t":1.05,"v":0.77},{"k":"f8","t":1.15,"v":1.05},{"k":"f8","t":1.25,"v":1.5},{"k":"f8","t":1.4,"v":1.6},{"k":"f8","t":1.6,"v":1.6},{"k":"f8","t":1.8,"v":1.45},{"k":"f8","t":2,"v":1.25},{"k":"f8","t":2.3,"v":0.95},{"k":"f8","t":2.7,"v":0.68},{"k":"f8","t":3.2,"v":0.6},{"k":"f8","t":6,"v":0.6},
{"k":"f9","t":0,"v":0.73},{"k":"f9","t":1.05,"v":0.73},{"k":"f9","t":1.15,"v":1.3},{"k":"f9","t":1.25,"v":2.05},{"k":"f9","t":1.4,"v":2.1},{"k":"f9","t":1.6,"v":1.85},{"k":"f9","t":1.8,"v":1.55},{"k":"f9","t":2,"v":1.2},{"k":"f9","t":2.3,"v":0.85},{"k":"f9","t":2.7,"v":0.64},{"k":"f9","t":3.2,"v":0.6},{"k":"f9","t":6,"v":0.6},
{"k":"f10","t":0,"v":0.79},{"k":"f10","t":1.05,"v":0.79},{"k":"f10","t":1.15,"v":1.2},{"k":"f10","t":1.25,"v":1.65},{"k":"f10","t":1.4,"v":1.55},{"k":"f10","t":1.6,"v":1.4},{"k":"f10","t":1.8,"v":1.15},{"k":"f10","t":2,"v":0.9},{"k":"f10","t":2.3,"v":0.7},{"k":"f10","t":2.7,"v":0.58},{"k":"f10","t":3.2,"v":0.55},{"k":"f10","t":6,"v":0.52}
],
"mn":[
{"r":"A","g":"C","t":0,"v":0.52,"e":0.02},{"r":"A","g":"C","t":0.5,"v":0.52,"e":0.02},{"r":"A","g":"C","t":1,"v":0.52,"e":0.02},{"r":"A","g":"C","t":1.05,"v":0.8,"e":0.04},{"r":"A","g":"C","t":1.1,"v":1.6,"e":0.06},{"r":"A","g":"C","t":1.15,"v":2.1,"e":0.07},{"r":"A","g":"C","t":1.2,"v":2.2,"e":0.07},{"r":"A","g":"C","t":1.3,"v":2.05,"e":0.06},{"r":"A","g":"C","t":1.4,"v":1.9,"e":0.06},{"r":"A","g":"C","t":1.6,"v":1.76,"e":0.06},{"r":"A","g":"C","t":1.8,"v":1.7,"e":0.06},{"r":"A","g":"C","t":2,"v":1.66,"e":0.06},{"r":"A","g":"C","t":2.25,"v":1.6,"e":0.06},{"r":"A","g":"C","t":2.5,"v":1.55,"e":0.06},{"r":"A","g":"C","t":2.75,"v":1.51,"e":0.06},{"r":"A","g":"C","t":3,"v":1.48,"e":0.06},{"r":"A","g":"C","t":3.5,"v":1.43,"e":0.06},{"r":"A","g":"C","t":4,"v":1.36,"e":0.06},{"r":"A","g":"C","t":4.5,"v":1.31,"e":0.06},{"r":"A","g":"C","t":5,"v":1.27,"e":0.06},{"r":"A","g":"C","t":5.5,"v":1.18,"e":0.05},{"r":"A","g":"C","t":6,"v":1.12,"e":0.05},
{"r":"A","g":"M","t":0,"v":0.5,"e":0.02},{"r":"A","g":"M","t":0.5,"v":0.5,"e":0.02},{"r":"A","g":"M","t":1,"v":0.5,"e":0.02},{"r":"A","g":"M","t":1.05,"v":0.7,"e":0.03},{"r":"A","g":"M","t":1.1,"v":1.4,"e":0.04},{"r":"A","g":"M","t":1.15,"v":1.95,"e":0.04},{"r":"A","g":"M","t":1.2,"v":1.95,"e":0.04},{"r":"A","g":"M","t":1.3,"v":1.7,"e":0.04},{"r":"A","g":"M","t":1.4,"v":1.5,"e":0.04},{"r":"A","g":"M","t":1.6,"v":1.3,"e":0.03},{"r":"A","g":"M","t":1.8,"v":1.12,"e":0.03},{"r":"A","g":"M","t":2,"v":1.02,"e":0.03},{"r":"A","g":"M","t":2.25,"v":0.95,"e":0.03},{"r":"A","g":"M","t":2.5,"v":0.9,"e":0.03},{"r":"A","g":"M","t":2.75,"v":0.87,"e":0.03},{"r":"A","g":"M","t":3,"v":0.84,"e":0.03},{"r":"A","g":"M","t":3.5,"v":0.78,"e":0.03},{"r":"A","g":"M","t":4,"v":0.72,"e":0.03},{"r":"A","g":"M","t":4.5,"v":0.68,"e":0.03},{"r":"A","g":"M","t":5,"v":0.65,"e":0.03},{"r":"A","g":"M","t":5.5,"v":0.63,"e":0.03},{"r":"A","g":"M","t":6,"v":0.61,"e":0.03},
{"r":"A","g":"U","t":0,"v":0.5,"e":0.02},{"r":"A","g":"U","t":0.5,"v":0.5,"e":0.02},{"r":"A","g":"U","t":1,"v":0.51,"e":0.02},{"r":"A","g":"U","t":1.05,"v":0.75,"e":0.03},{"r":"A","g":"U","t":1.1,"v":1.6,"e":0.04},{"r":"A","g":"U","t":1.15,"v":2.0,"e":0.04},{"r":"A","g":"U","t":1.2,"v":1.98,"e":0.04},{"r":"A","g":"U","t":1.3,"v":1.85,"e":0.04},{"r":"A","g":"U","t":1.4,"v":1.72,"e":0.04},{"r":"A","g":"U","t":1.6,"v":1.55,"e":0.04},{"r":"A","g":"U","t":1.8,"v":1.38,"e":0.04},{"r":"A","g":"U","t":2,"v":1.23,"e":0.04},{"r":"A","g":"U","t":2.25,"v":1.08,"e":0.04},{"r":"A","g":"U","t":2.5,"v":0.95,"e":0.03},{"r":"A","g":"U","t":2.75,"v":0.86,"e":0.03},{"r":"A","g":"U","t":3,"v":0.8,"e":0.03},{"r":"A","g":"U","t":3.5,"v":0.73,"e":0.03},{"r":"A","g":"U","t":4,"v":0.69,"e":0.03},{"r":"A","g":"U","t":4.5,"v":0.66,"e":0.03},{"r":"A","g":"U","t":5,"v":0.63,"e":0.03},{"r":"A","g":"U","t":5.5,"v":0.61,"e":0.03},{"r":"A","g":"U","t":6,"v":0.6,"e":0.03},
{"r":"B","g":"C","t":0,"v":0.71,"e":0.02},{"r":"B","g":"C","t":0.5,"v":0.71,"e":0.02},{"r":"B","g":"C","t":1,"v":0.71,"e":0.02},{"r":"B","g":"C","t":1.1,"v":0.72,"e":0.02},{"r":"B","g":"C","t":1.15,"v":1.2,"e":0.03},{"r":"B","g":"C","t":1.2,"v":1.8,"e":0.04},{"r":"B","g":"C","t":1.25,"v":2.05,"e":0.04},{"r":"B","g":"C","t":1.3,"v":2.0,"e":0.04},{"r":"B","g":"C","t":1.4,"v":1.8,"e":0.04},{"r":"B","g":"C","t":1.5,"v":1.6,"e":0.04},{"r":"B","g":"C","t":1.6,"v":1.45,"e":0.03},{"r":"B","g":"C","t":1.8,"v":1.1,"e":0.03},{"r":"B","g":"C","t":2,"v":0.77,"e":0.03},{"r":"B","g":"C","t":2.2,"v":0.66,"e":0.02},{"r":"B","g":"C","t":2.4,"v":0.6,"e":0.02},{"r":"B","g":"C","t":2.6,"v":0.57,"e":0.02},{"r":"B","g":"C","t":2.8,"v":0.56,"e":0.02},{"r":"B","g":"C","t":3,"v":0.55,"e":0.02},{"r":"B","g":"C","t":3.5,"v":0.54,"e":0.02},{"r":"B","g":"C","t":4,"v":0.54,"e":0.02},{"r":"B","g":"C","t":5,"v":0.54,"e":0.02},{"r":"B","g":"C","t":6,"v":0.54,"e":0.02},
{"r":"B","g":"M","t":0,"v":0.7,"e":0.02},{"r":"B","g":"M","t":0.5,"v":0.69,"e":0.02},{"r":"B","g":"M","t":1,"v":0.7,"e":0.02},{"r":"B","g":"M","t":1.1,"v":0.72,"e":0.02},{"r":"B","g":"M","t":1.15,"v":1.1,"e":0.03},{"r":"B","g":"M","t":1.2,"v":1.6,"e":0.04},{"r":"B","g":"M","t":1.25,"v":1.85,"e":0.04},{"r":"B","g":"M","t":1.3,"v":1.87,"e":0.04},{"r":"B","g":"M","t":1.4,"v":1.75,"e":0.04},{"r":"B","g":"M","t":1.5,"v":1.6,"e":0.04},{"r":"B","g":"M","t":1.6,"v":1.45,"e":0.04},{"r":"B","g":"M","t":1.8,"v":1.15,"e":0.03},{"r":"B","g":"M","t":2,"v":0.84,"e":0.03},{"r":"B","g":"M","t":2.2,"v":0.7,"e":0.02},{"r":"B","g":"M","t":2.4,"v":0.63,"e":0.02},{"r":"B","g":"M","t":2.6,"v":0.6,"e":0.02},{"r":"B","g":"M","t":2.8,"v":0.58,"e":0.02},{"r":"B","g":"M","t":3,"v":0.58,"e":0.02},{"r":"B","g":"M","t":3.5,"v":0.57,"e":0.02},{"r":"B","g":"M","t":4,"v":0.57,"e":0.02},{"r":"B","g":"M","t":5,"v":0.57,"e":0.02},{"r":"B","g":"M","t":6,"v":0.57,"e":0.02},
{"r":"B","g":"U","t":0,"v":0.75,"e":0.02},{"r":"B","g":"U","t":0.5,"v":0.76,"e":0.02},{"r":"B","g":"U","t":1,"v":0.76,"e":0.02},{"r":"B","g":"U","t":1.1,"v":0.78,"e":0.02},{"r":"B","g":"U","t":1.15,"v":1.1,"e":0.03},{"r":"B","g":"U","t":1.2,"v":1.5,"e":0.04},{"r":"B","g":"U","t":1.25,"v":1.68,"e":0.04},{"r":"B","g":"U","t":1.3,"v":1.7,"e":0.04},{"r":"B","g":"U","t":1.4,"v":1.62,"e":0.04},{"r":"B","g":"U","t":1.5,"v":1.52,"e":0.04},{"r":"B","g":"U","t":1.6,"v":1.42,"e":0.04},{"r":"B","g":"U","t":1.8,"v":1.2,"e":0.03},{"r":"B","g":"U","t":2,"v":0.97,"e":0.03},{"r":"B","g":"U","t":2.2,"v":0.82,"e":0.03},{"r":"B","g":"U","t":2.4,"v":0.72,"e":0.02},{"r":"B","g":"U","t":2.6,"v":0.66,"e":0.02},{"r":"B","g":"U","t":2.8,"v":0.63,"e":0.02},{"r":"B","g":"U","t":3,"v":0.62,"e":0.02},{"r":"B","g":"U","t":3.5,"v":0.6,"e":0.02},{"r":"B","g":"U","t":4,"v":0.59,"e":0.02},{"r":"B","g":"U","t":5,"v":0.59,"e":0.02},{"r":"B","g":"U","t":6,"v":0.58,"e":0.02}
],
"pt":[
{"r":"A","g":"C","t":0.5,"v":0.5,"e":0.03},{"r":"A","g":"C","t":1.2,"v":2.18,"e":0.07},{"r":"A","g":"C","t":2,"v":1.67,"e":0.05},{"r":"A","g":"C","t":3,"v":1.48,"e":0.06},{"r":"A","g":"C","t":4,"v":1.32,"e":0.06},{"r":"A","g":"C","t":5,"v":1.24,"e":0.06},{"r":"A","g":"C","t":5.9,"v":1.12,"e":0.05},
{"r":"A","g":"M","t":0.5,"v":0.49,"e":0.02},{"r":"A","g":"M","t":1.15,"v":1.93,"e":0.04},{"r":"A","g":"M","t":2,"v":1.03,"e":0.03},{"r":"A","g":"M","t":3,"v":0.82,"e":0.03},{"r":"A","g":"M","t":4,"v":0.69,"e":0.02},{"r":"A","g":"M","t":5,"v":0.63,"e":0.02},{"r":"A","g":"M","t":5.9,"v":0.61,"e":0.02},
{"r":"A","g":"U","t":0.5,"v":0.49,"e":0.02},{"r":"A","g":"U","t":1.15,"v":1.98,"e":0.04},{"r":"A","g":"U","t":2,"v":1.21,"e":0.04},{"r":"A","g":"U","t":3,"v":0.79,"e":0.03},{"r":"A","g":"U","t":4,"v":0.68,"e":0.02},{"r":"A","g":"U","t":5,"v":0.62,"e":0.02},{"r":"A","g":"U","t":5.9,"v":0.59,"e":0.02},
{"r":"B","g":"C","t":0.55,"v":0.72,"e":0.02},{"r":"B","g":"C","t":1.27,"v":2.0,"e":0.03},{"r":"B","g":"C","t":2.02,"v":0.76,"e":0.02},{"r":"B","g":"C","t":3,"v":0.55,"e":0.02},{"r":"B","g":"C","t":4,"v":0.54,"e":0.02},{"r":"B","g":"C","t":5,"v":0.54,"e":0.02},{"r":"B","g":"C","t":5.9,"v":0.54,"e":0.02},
{"r":"B","g":"M","t":0.55,"v":0.69,"e":0.02},{"r":"B","g":"M","t":1.27,"v":1.84,"e":0.03},{"r":"B","g":"M","t":2.02,"v":0.83,"e":0.02},{"r":"B","g":"M","t":3,"v":0.58,"e":0.02},{"r":"B","g":"M","t":4,"v":0.57,"e":0.02},{"r":"B","g":"M","t":5,"v":0.57,"e":0.02},{"r":"B","g":"M","t":5.9,"v":0.57,"e":0.02},
{"r":"B","g":"U","t":0.55,"v":0.76,"e":0.02},{"r":"B","g":"U","t":1.27,"v":1.68,"e":0.03},{"r":"B","g":"U","t":2.02,"v":0.96,"e":0.02},{"r":"B","g":"U","t":3,"v":0.62,"e":0.02},{"r":"B","g":"U","t":4,"v":0.6,"e":0.02},{"r":"B","g":"U","t":5,"v":0.59,"e":0.02},{"r":"B","g":"U","t":5.9,"v":0.59,"e":0.02}
],
"hs":[{"t":0.95,"t2":6.05,"v":3.5,"s":"Histamine"}],
"lg4":[{"t":0.3,"t2":0.75,"tc":0.54,"v":3.25,"g":"C","s":"Control"},{"t":0.3,"t2":0.75,"tc":0.54,"v":2.98,"g":"M","s":"MCU"},{"t":0.3,"t2":0.75,"tc":0.54,"v":2.71,"g":"U","s":"UCP2"}]
},
"concat":[
{"width":201,"height":300,
"encoding":{"x":{"field":"t","type":"quantitative","scale":{"domain":[0,6],"nice":false,"zero":false},"axis":{"values":[0,1,2,3,4,5,6],"title":"Time (min)"}},"y":{"field":"v","type":"quantitative","scale":{"domain":[0.1,3.5],"nice":false,"zero":false},"axis":{"values":[0.5,1,1.5,2,2.5,3,3.5],"format":".1f","title":"Ratio F₃₄₀/F₃₈₀"}}},
"layer":[
{"data":{"name":"tr"},"transform":[{"filter":"substring(datum.k,0,1)=='a'"}],"mark":{"type":"line","color":"#7a7a7a","strokeWidth":1},"encoding":{"detail":{"field":"k"}}},
{"data":{"name":"mn"},"transform":[{"filter":"datum.r=='A'&&datum.g=='C'"}],"mark":{"type":"errorbar","ticks":true,"size":7,"thickness":1.8,"color":"#000"},"encoding":{"yError":{"field":"e"}}},
{"data":{"name":"mn"},"transform":[{"filter":"datum.r=='A'&&datum.g=='C'"}],"mark":{"type":"line","color":"#000","strokeWidth":6.5},"encoding":{}},
{"data":{"name":"hs"},"mark":{"type":"rule","color":"#333","strokeWidth":1.5},"encoding":{"x2":{"field":"t2"}}},
{"data":{"name":"hs"},"mark":{"type":"text","align":"left","baseline":"alphabetic","dy":-4,"fontSize":23},"encoding":{"text":{"field":"s"}}},
{"data":{"values":[{"t":0.3,"t2":0.63,"v":3.27}]},"mark":{"type":"rule","color":"#000","strokeWidth":5},"encoding":{"x2":{"field":"t2"}}},
{"data":{"values":[{"t":0.93,"v":3.27,"s":"Control"}]},"mark":{"type":"text","align":"left","baseline":"middle","fontSize":23},"encoding":{"text":{"field":"s"}}},
{"data":{"values":[{"t":-3.43,"v":3.49,"s":"A"}]},"mark":{"type":"text","align":"left","baseline":"alphabetic","fontSize":38},"encoding":{"text":{"field":"s"}}},
{"data":{"values":[{"t":-2.81,"v":2.01,"s":"Ca²⁺"}]},"mark":{"type":"text","align":"center","baseline":"alphabetic","angle":270,"fontSize":37},"encoding":{"text":{"field":"s"}}}
]},
{"width":201,"height":300,
"encoding":{"x":{"field":"t","type":"quantitative","scale":{"domain":[0,6],"nice":false,"zero":false},"axis":{"values":[0,1,2,3,4,5,6],"title":"Time (min)"}},"y":{"field":"v","type":"quantitative","scale":{"domain":[0.1,3.5],"nice":false,"zero":false},"axis":{"values":[0.5,1,1.5,2,2.5,3,3.5],"format":".1f","title":null}}},
"layer":[
{"data":{"name":"tr"},"transform":[{"filter":"substring(datum.k,0,1)=='b'"}],"mark":{"type":"line","color":"#ff8c8c","strokeWidth":1},"encoding":{"detail":{"field":"k"}}},
{"data":{"name":"mn"},"transform":[{"filter":"datum.r=='A'&&datum.g=='M'"}],"mark":{"type":"errorbar","ticks":true,"size":7,"thickness":1.8,"color":"#ff0000"},"encoding":{"yError":{"field":"e"}}},
{"data":{"name":"mn"},"transform":[{"filter":"datum.r=='A'&&datum.g=='M'"}],"mark":{"type":"line","color":"#ff0000","strokeWidth":6.5},"encoding":{}},
{"data":{"name":"hs"},"mark":{"type":"rule","color":"#333","strokeWidth":1.5},"encoding":{"x2":{"field":"t2"}}},
{"data":{"name":"hs"},"mark":{"type":"text","align":"left","baseline":"alphabetic","dy":-4,"fontSize":23},"encoding":{"text":{"field":"s"}}},
{"data":{"values":[{"t":0.3,"t2":0.68,"v":3.27}]},"mark":{"type":"rule","color":"#ff0000","strokeWidth":5},"encoding":{"x2":{"field":"t2"}}},
{"data":{"values":[{"t":0.93,"v":3.27,"s":"MCU"}]},"mark":{"type":"text","align":"left","baseline":"middle","fontSize":23},"encoding":{"text":{"field":"s"}}},
{"data":{"values":[{"t":0.93,"v":3.27,"s":"KD"}]},"mark":{"type":"text","align":"left","baseline":"middle","fontSize":15,"dx":53.5,"dy":-9},"encoding":{"text":{"field":"s"}}}
]},
{"width":201,"height":300,
"encoding":{"x":{"field":"t","type":"quantitative","scale":{"domain":[0,6],"nice":false,"zero":false},"axis":{"values":[0,1,2,3,4,5,6],"title":"Time (min)"}},"y":{"field":"v","type":"quantitative","scale":{"domain":[0.1,3.5],"nice":false,"zero":false},"axis":{"values":[0.5,1,1.5,2,2.5,3,3.5],"format":".1f","title":null}}},
"layer":[
{"data":{"name":"tr"},"transform":[{"filter":"substring(datum.k,0,1)=='c'"}],"mark":{"type":"line","color":"#a3a3ff","strokeWidth":1},"encoding":{"detail":{"field":"k"}}},
{"data":{"name":"mn"},"transform":[{"filter":"datum.r=='A'&&datum.g=='U'"}],"mark":{"type":"errorbar","ticks":true,"size":7,"thickness":1.8,"color":"#0000ff"},"encoding":{"yError":{"field":"e"}}},
{"data":{"name":"mn"},"transform":[{"filter":"datum.r=='A'&&datum.g=='U'"}],"mark":{"type":"line","color":"#0000ff","strokeWidth":6.5},"encoding":{}},
{"data":{"name":"hs"},"mark":{"type":"rule","color":"#333","strokeWidth":1.5},"encoding":{"x2":{"field":"t2"}}},
{"data":{"name":"hs"},"mark":{"type":"text","align":"left","baseline":"alphabetic","dy":-4,"fontSize":23},"encoding":{"text":{"field":"s"}}},
{"data":{"values":[{"t":0.3,"t2":0.7,"v":3.27}]},"mark":{"type":"rule","color":"#0000ff","strokeWidth":5},"encoding":{"x2":{"field":"t2"}}},
{"data":{"values":[{"t":0.93,"v":3.27,"s":"UCP2"}]},"mark":{"type":"text","align":"left","baseline":"middle","fontSize":23},"encoding":{"text":{"field":"s"}}},
{"data":{"values":[{"t":0.93,"v":3.27,"s":"KD"}]},"mark":{"type":"text","align":"left","baseline":"middle","fontSize":15,"dx":62.5,"dy":-9},"encoding":{"text":{"field":"s"}}}
]},
{"width":201,"height":300,
"encoding":{"x":{"field":"t","type":"quantitative","scale":{"domain":[0,6],"nice":false,"zero":false},"axis":{"values":[0,1,2,3,4,5,6],"title":"Time(min)"}},"y":{"field":"v","type":"quantitative","scale":{"domain":[0.1,3.5],"nice":false,"zero":false},"axis":{"values":[0.5,1,1.5,2,2.5,3,3.5],"format":".1f","title":null}}},
"layer":[
{"data":{"name":"mn"},"transform":[{"filter":"datum.r=='A'"}],"mark":{"type":"line","strokeWidth":3},"encoding":{"color":{"field":"g","type":"nominal","scale":{"domain":["C","M","U"],"range":["#000000","#ff0000","#0000ff"]},"legend":null}}},
{"data":{"name":"pt"},"transform":[{"filter":"datum.r=='A'"}],"mark":{"type":"errorbar","ticks":true,"size":12,"thickness":2},"encoding":{"yError":{"field":"e"},"color":{"field":"g","type":"nominal","scale":{"domain":["C","M","U"],"range":["#000000","#ff0000","#0000ff"]},"legend":null}}},
{"data":{"name":"pt"},"transform":[{"filter":"datum.r=='A'"}],"mark":{"type":"point","filled":true,"fill":"white","strokeWidth":2,"size":80,"opacity":1},"encoding":{"stroke":{"field":"g","type":"nominal","scale":{"domain":["C","M","U"],"range":["#000000","#ff0000","#0000ff"]},"legend":null}}},
{"data":{"name":"hs"},"mark":{"type":"rule","color":"#333","strokeWidth":1.5},"encoding":{"x2":{"field":"t2"}}},
{"data":{"name":"hs"},"mark":{"type":"text","align":"left","baseline":"alphabetic","dy":-4,"fontSize":23},"encoding":{"text":{"field":"s"}}},
{"data":{"name":"lg4"},"mark":{"type":"rule","strokeWidth":3},"encoding":{"x2":{"field":"t2"},"color":{"field":"g","type":"nominal","scale":{"domain":["C","M","U"],"range":["#000000","#ff0000","#0000ff"]},"legend":null}}},
{"data":{"name":"lg4"},"mark":{"type":"point","filled":true,"fill":"white","strokeWidth":2,"size":70,"opacity":1},"encoding":{"x":{"field":"tc","type":"quantitative"},"stroke":{"field":"g","type":"nominal","scale":{"domain":["C","M","U"],"range":["#000000","#ff0000","#0000ff"]},"legend":null}}},
{"data":{"name":"lg4"},"mark":{"type":"text","align":"left","baseline":"middle","fontSize":23,"dx":13},"encoding":{"x":{"field":"tc","type":"quantitative"},"text":{"field":"s"}}},
{"data":{"name":"lg4"},"transform":[{"filter":"datum.g=='M'"}],"mark":{"type":"text","align":"left","baseline":"middle","fontSize":15,"dx":66.5,"dy":-8},"encoding":{"x":{"field":"tc","type":"quantitative"},"text":{"value":"KD"}}},
{"data":{"name":"lg4"},"transform":[{"filter":"datum.g=='U'"}],"mark":{"type":"text","align":"left","baseline":"middle","fontSize":15,"dx":75.5,"dy":-8},"encoding":{"x":{"field":"tc","type":"quantitative"},"text":{"value":"KD"}}}
]},
{"width":201,"height":300,
"encoding":{"x":{"field":"t","type":"quantitative","scale":{"domain":[0,6],"nice":false,"zero":false},"axis":{"values":[0,1,2,3,4,5,6],"title":"Time (min)"}},"y":{"field":"v","type":"quantitative","scale":{"domain":[0.1,3.5],"nice":false,"zero":false},"axis":{"values":[0.5,1,1.5,2,2.5,3,3.5],"format":".1f","title":"Ratio F₃₄₀/F₃₈₀"}}},
"layer":[
{"data":{"name":"tr"},"transform":[{"filter":"substring(datum.k,0,1)=='d'"}],"mark":{"type":"line","color":"#6e6e6e","strokeWidth":1.2},"encoding":{"detail":{"field":"k"}}},
{"data":{"name":"mn"},"transform":[{"filter":"datum.r=='B'&&datum.g=='C'"}],"mark":{"type":"errorbar","ticks":true,"size":7,"thickness":1.8,"color":"#000"},"encoding":{"yError":{"field":"e"}}},
{"data":{"name":"mn"},"transform":[{"filter":"datum.r=='B'&&datum.g=='C'"}],"mark":{"type":"line","color":"#000","strokeWidth":6},"encoding":{}},
{"data":{"name":"hs"},"mark":{"type":"rule","color":"#333","strokeWidth":1.5},"encoding":{"x2":{"field":"t2"}}},
{"data":{"name":"hs"},"mark":{"type":"text","align":"left","baseline":"alphabetic","dy":-4,"fontSize":23},"encoding":{"text":{"field":"s"}}},
{"data":{"values":[{"t":0.3,"t2":0.63,"v":3.24}]},"mark":{"type":"rule","color":"#000","strokeWidth":5},"encoding":{"x2":{"field":"t2"}}},
{"data":{"values":[{"t":0.93,"v":3.24,"s":"Control"}]},"mark":{"type":"text","align":"left","baseline":"middle","fontSize":23},"encoding":{"text":{"field":"s"}}},
{"data":{"values":[{"t":-3.43,"v":3.455,"s":"B"}]},"mark":{"type":"text","align":"left","baseline":"alphabetic","fontSize":38},"encoding":{"text":{"field":"s"}}},
{"data":{"values":[{"t":-2.99,"v":1.87,"s":"EGTA"}]},"mark":{"type":"text","align":"center","baseline":"alphabetic","angle":270,"fontSize":37},"encoding":{"text":{"field":"s"}}}
]},
{"width":201,"height":300,
"encoding":{"x":{"field":"t","type":"quantitative","scale":{"domain":[0,6],"nice":false,"zero":false},"axis":{"values":[0,1,2,3,4,5,6],"title":"Time (min)"}},"y":{"field":"v","type":"quantitative","scale":{"domain":[0.1,3.5],"nice":false,"zero":false},"axis":{"values":[0.5,1,1.5,2,2.5,3,3.5],"format":".1f","title":null}}},
"layer":[
{"data":{"name":"tr"},"transform":[{"filter":"substring(datum.k,0,1)=='e'"}],"mark":{"type":"line","color":"#ff8c8c","strokeWidth":1},"encoding":{"detail":{"field":"k"}}},
{"data":{"name":"mn"},"transform":[{"filter":"datum.r=='B'&&datum.g=='M'"}],"mark":{"type":"errorbar","ticks":true,"size":7,"thickness":1.8,"color":"#ff0000"},"encoding":{"yError":{"field":"e"}}},
{"data":{"name":"mn"},"transform":[{"filter":"datum.r=='B'&&datum.g=='M'"}],"mark":{"type":"line","color":"#ff0000","strokeWidth":6},"encoding":{}},
{"data":{"name":"hs"},"mark":{"type":"rule","color":"#333","strokeWidth":1.5},"encoding":{"x2":{"field":"t2"}}},
{"data":{"name":"hs"},"mark":{"type":"text","align":"left","baseline":"alphabetic","dy":-4,"fontSize":23},"encoding":{"text":{"field":"s"}}},
{"data":{"values":[{"t":0.3,"t2":0.68,"v":3.24}]},"mark":{"type":"rule","color":"#ff0000","strokeWidth":5},"encoding":{"x2":{"field":"t2"}}},
{"data":{"values":[{"t":0.93,"v":3.24,"s":"MCU"}]},"mark":{"type":"text","align":"left","baseline":"middle","fontSize":23},"encoding":{"text":{"field":"s"}}},
{"data":{"values":[{"t":0.93,"v":3.24,"s":"KD"}]},"mark":{"type":"text","align":"left","baseline":"middle","fontSize":15,"dx":53.5,"dy":-9},"encoding":{"text":{"field":"s"}}}
]},
{"width":201,"height":300,
"encoding":{"x":{"field":"t","type":"quantitative","scale":{"domain":[0,6],"nice":false,"zero":false},"axis":{"values":[0,1,2,3,4,5,6],"title":"Time (min)"}},"y":{"field":"v","type":"quantitative","scale":{"domain":[0.1,3.5],"nice":false,"zero":false},"axis":{"values":[0.5,1,1.5,2,2.5,3,3.5],"format":".1f","title":null}}},
"layer":[
{"data":{"name":"tr"},"transform":[{"filter":"substring(datum.k,0,1)=='f'"}],"mark":{"type":"line","color":"#a3a3ff","strokeWidth":1},"encoding":{"detail":{"field":"k"}}},
{"data":{"name":"mn"},"transform":[{"filter":"datum.r=='B'&&datum.g=='U'"}],"mark":{"type":"errorbar","ticks":true,"size":7,"thickness":1.8,"color":"#0000ff"},"encoding":{"yError":{"field":"e"}}},
{"data":{"name":"mn"},"transform":[{"filter":"datum.r=='B'&&datum.g=='U'"}],"mark":{"type":"line","color":"#0000ff","strokeWidth":6},"encoding":{}},
{"data":{"name":"hs"},"mark":{"type":"rule","color":"#333","strokeWidth":1.5},"encoding":{"x2":{"field":"t2"}}},
{"data":{"name":"hs"},"mark":{"type":"text","align":"left","baseline":"alphabetic","dy":-4,"fontSize":23},"encoding":{"text":{"field":"s"}}},
{"data":{"values":[{"t":0.3,"t2":0.7,"v":3.24}]},"mark":{"type":"rule","color":"#0000ff","strokeWidth":5},"encoding":{"x2":{"field":"t2"}}},
{"data":{"values":[{"t":0.93,"v":3.24,"s":"UCP2"}]},"mark":{"type":"text","align":"left","baseline":"middle","fontSize":23},"encoding":{"text":{"field":"s"}}},
{"data":{"values":[{"t":0.93,"v":3.24,"s":"KD"}]},"mark":{"type":"text","align":"left","baseline":"middle","fontSize":15,"dx":62.5,"dy":-9},"encoding":{"text":{"field":"s"}}}
]},
{"width":201,"height":300,
"encoding":{"x":{"field":"t","type":"quantitative","scale":{"domain":[0,6],"nice":false,"zero":false},"axis":{"values":[0,1,2,3,4,5,6],"title":"Time (min)"}},"y":{"field":"v","type":"quantitative","scale":{"domain":[0.1,3.5],"nice":false,"zero":false},"axis":{"values":[0.5,1,1.5,2,2.5,3,3.5],"format":".1f","title":null}}},
"layer":[
{"data":{"name":"mn"},"transform":[{"filter":"datum.r=='B'"}],"mark":{"type":"line","strokeWidth":3},"encoding":{"color":{"field":"g","type":"nominal","scale":{"domain":["C","M","U"],"range":["#000000","#ff0000","#0000ff"]},"legend":null}}},
{"data":{"name":"pt"},"transform":[{"filter":"datum.r=='B'"}],"mark":{"type":"errorbar","ticks":true,"size":12,"thickness":2},"encoding":{"yError":{"field":"e"},"color":{"field":"g","type":"nominal","scale":{"domain":["C","M","U"],"range":["#000000","#ff0000","#0000ff"]},"legend":null}}},
{"data":{"name":"pt"},"transform":[{"filter":"datum.r=='B'"}],"mark":{"type":"point","filled":true,"fill":"white","strokeWidth":2,"size":80,"opacity":1},"encoding":{"stroke":{"field":"g","type":"nominal","scale":{"domain":["C","M","U"],"range":["#000000","#ff0000","#0000ff"]},"legend":null}}},
{"data":{"name":"hs"},"mark":{"type":"rule","color":"#333","strokeWidth":1.5},"encoding":{"x2":{"field":"t2"}}},
{"data":{"name":"hs"},"mark":{"type":"text","align":"left","baseline":"alphabetic","dy":-4,"fontSize":23},"encoding":{"text":{"field":"s"}}},
{"data":{"name":"lg4"},"mark":{"type":"rule","strokeWidth":3},"encoding":{"x2":{"field":"t2"},"color":{"field":"g","type":"nominal","scale":{"domain":["C","M","U"],"range":["#000000","#ff0000","#0000ff"]},"legend":null}}},
{"data":{"name":"lg4"},"mark":{"type":"point","filled":true,"fill":"white","strokeWidth":2,"size":70,"opacity":1},"encoding":{"x":{"field":"tc","type":"quantitative"},"stroke":{"field":"g","type":"nominal","scale":{"domain":["C","M","U"],"range":["#000000","#ff0000","#0000ff"]},"legend":null}}},
{"data":{"name":"lg4"},"mark":{"type":"text","align":"left","baseline":"middle","fontSize":23,"dx":13},"encoding":{"x":{"field":"tc","type":"quantitative"},"text":{"field":"s"}}},
{"data":{"name":"lg4"},"transform":[{"filter":"datum.g=='M'"}],"mark":{"type":"text","align":"left","baseline":"middle","fontSize":15,"dx":66.5,"dy":-8},"encoding":{"x":{"field":"tc","type":"quantitative"},"text":{"value":"KD"}}},
{"data":{"name":"lg4"},"transform":[{"filter":"datum.g=='U'"}],"mark":{"type":"text","align":"left","baseline":"middle","fontSize":15,"dx":75.5,"dy":-8},"encoding":{"x":{"field":"tc","type":"quantitative"},"text":{"value":"KD"}}}
]}
]}
